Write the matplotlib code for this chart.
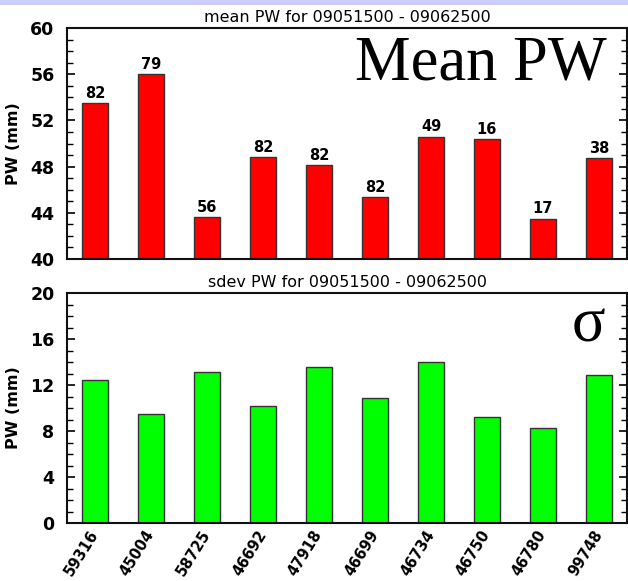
import matplotlib
matplotlib.use("Agg")
import matplotlib.pyplot as plt
from matplotlib.patches import Rectangle
from matplotlib.ticker import MultipleLocator
import numpy as np

# Station identifiers
stations = ["59316", "45004", "58725", "46692", "47918",
            "46699", "46734", "46750", "46780", "99748"]

# Mean precipitable water (mm) per station
mean_pw = [53.5, 56.0, 43.65, 48.85, 48.15, 45.4, 50.6, 50.35, 43.5, 48.75]

# Number of samples per station (printed above the mean bars)
counts = [82, 79, 56, 82, 82, 82, 49, 16, 17, 38]

# Standard deviation of precipitable water (mm)
sdev_pw = [12.4, 9.5, 13.1, 10.2, 13.6, 10.9, 14.0, 9.2, 8.3, 12.9]

W, H = 628, 581
fig = plt.figure(figsize=(W / 100, H / 100), dpi=100)
fig.patches.append(Rectangle((0, 1 - 5 / H), 1, 5 / H, transform=fig.transFigure,
                             facecolor="#ccccff", edgecolor="none", zorder=-1))


def px_axes(x0, y0, x1, y1):
    return fig.add_axes([x0 / W, 1 - y1 / H, (x1 - x0) / W, (y1 - y0) / H])


ax1 = px_axes(67, 28, 627, 259)
ax2 = px_axes(67, 293, 627, 523)

x = np.arange(len(stations))
bar_w = 0.46


def style(ax, ylo, yhi, title):
    ax.set_xlim(-0.5, len(stations) - 0.5)
    ax.set_ylim(ylo, yhi)
    ax.yaxis.set_major_locator(MultipleLocator(4))
    ax.yaxis.set_minor_locator(MultipleLocator(1))
    ax.tick_params(axis="y", which="both", direction="in", left=True, right=True)
    ax.tick_params(axis="y", which="major", length=6, width=1.2, pad=9,
                   labelsize=12.5)
    ax.tick_params(axis="y", which="minor", length=4.5, width=1.0)
    for lab in ax.get_yticklabels():
        lab.set_fontweight("bold")
    ax.tick_params(axis="x", length=0)
    for sp in ax.spines.values():
        sp.set_linewidth(1.5)
        sp.set_color("#111111")
    ax.set_title(title, fontsize=11.5, pad=4)
    ax.set_ylabel("PW (mm)", fontsize=11.5, fontweight="bold")
    ax.yaxis.set_label_coords(-0.082, 0.5)


ax1.bar(x, mean_pw, width=bar_w, color="#ff0000", edgecolor="#333333",
        linewidth=1.0)
style(ax1, 40, 60, "mean PW for 09051500 - 09062500")
ax1.set_xticks(x)
ax1.set_xticklabels([])
for xi, v, n in zip(x, mean_pw, counts):
    ax1.annotate(str(n), (xi, v), xytext=(0, 1.5), textcoords="offset points",
                 ha="center", va="bottom", fontsize=10.5, fontweight="bold")
ax1.text(0.964, 0.779, "Mean PW", transform=ax1.transAxes, ha="right",
         va="baseline", fontsize=45, family="Liberation Serif")

ax2.bar(x, sdev_pw, width=bar_w, color="#00ff00", edgecolor="#333333",
        linewidth=1.0)
style(ax2, 0, 20, "sdev PW for 09051500 - 09062500")
ax2.set_xticks(x)
ax2.set_xticklabels(stations, rotation=58, ha="right", va="center",
                    rotation_mode="anchor", fontsize=10.5, fontweight="bold")
ax2.tick_params(axis="x", pad=6)
ax2.text(0.961, 0.791, "σ", transform=ax2.transAxes, ha="right",
         va="baseline", fontsize=45, family="Liberation Serif")

fig.savefig("out.png", dpi=100)
